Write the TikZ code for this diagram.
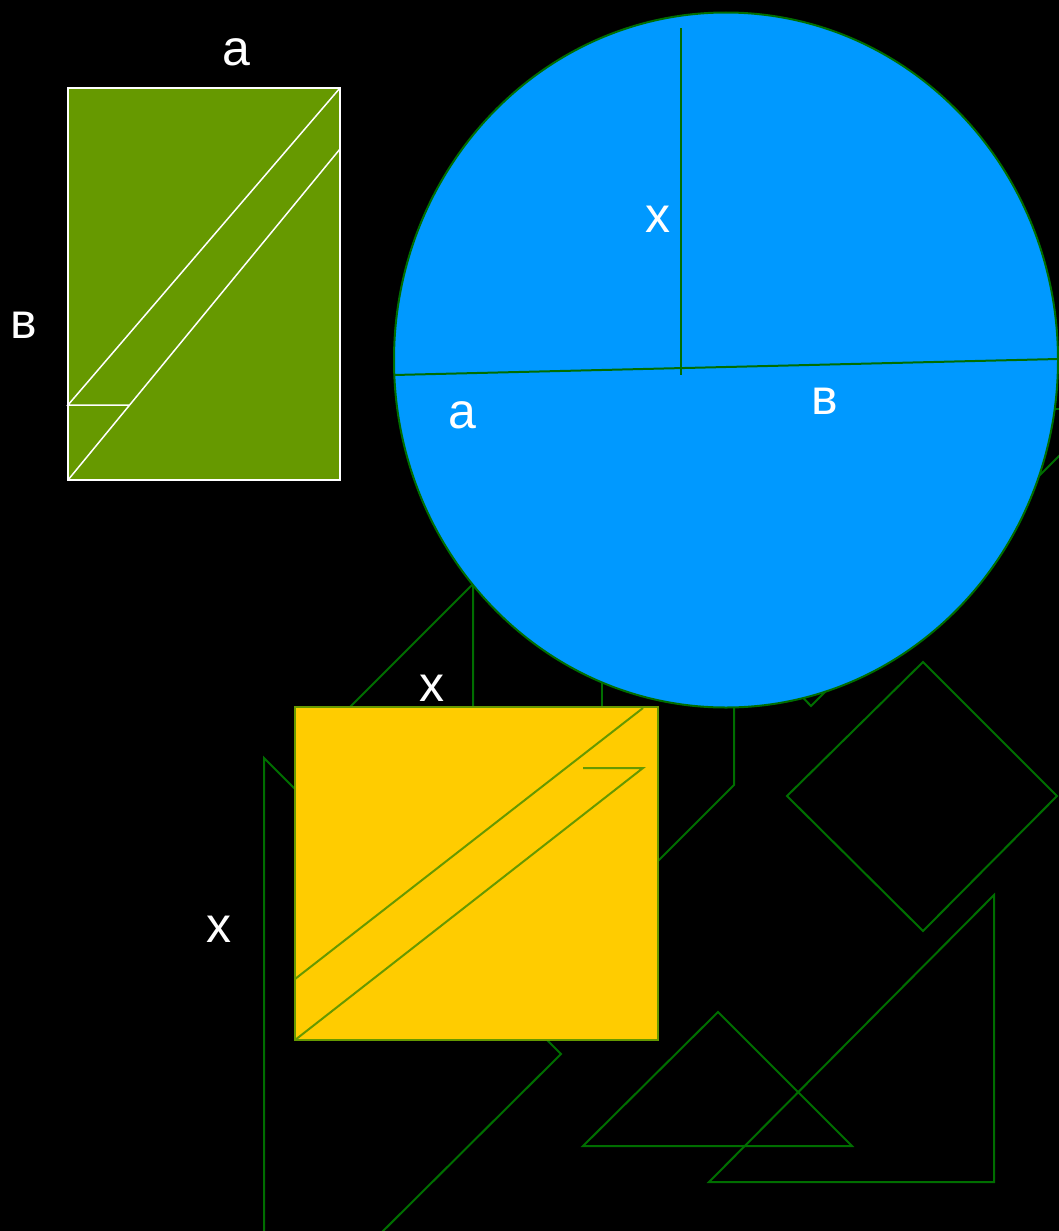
\documentclass[tikz,border=0pt]{standalone}
\usepackage{fontspec}
\setmainfont{Liberation Sans}
\usetikzlibrary{math}
\definecolor{myblue}{RGB}{0,153,255}
\definecolor{myyellow}{RGB}{255,204,0}
\definecolor{myolive}{RGB}{102,153,0}
\definecolor{mygreen}{RGB}{0,110,0}

\begin{document}
\begin{tikzpicture}[x=1pt,y=-1pt,
  lbl/.style={text=white,inner sep=0pt,font=\fontsize{50}{60}\selectfont},
  hidden/.style={draw=mygreen,line width=2pt,line join=miter}]
\tikzmath{
\W=1059;
\H=1231;
}
\fill[black] (0,0) rectangle (\W,\H);
\useasboundingbox (0,0) rectangle (\W,\H);
\clip (0,0) rectangle (\W,\H);

%outlines in the back
\draw[hidden] (330,727) -- (473,584) -- (473,730);
\draw[hidden] (602,660) -- (602,730);
\draw[hidden] (734,690) -- (734,785) -- (640,879);
\draw[hidden] (790,684) -- (811,706) -- (834,683);
\draw[hidden] (1030,485) -- (1070,445);
\draw[hidden] (1040,409) -- (1070,409);
\draw[hidden] (264,1240) -- (264,758) -- (310,804);
\draw[hidden] (530,1023) -- (561,1054) -- (374,1240);
\draw[hidden] (923,662) -- (1057,796) -- (923,931) -- (787,796) -- cycle;
\draw[hidden] (718,1012) -- (852,1146) -- (583,1146) -- cycle;
\draw[hidden] (994,895) -- (994,1182) -- (709,1182) -- cycle;

%circle
\fill[color=myblue, draw=mygreen, line width=2pt] (726,360) ellipse [x radius=332pt, y radius=347.5pt];
\draw[mygreen, line width=2pt] (394,375) -- (1058,359);
\draw[mygreen, line width=2pt] (681,28) -- (681,375);
\node[lbl] (circX) at (658,219) {x};
\node[lbl] (circA) at (462,415) {a};
\node[lbl] (circB) at (825,401) {в};

%square
\fill[color=myyellow, draw=myolive, line width=2pt] (295,707) rectangle (658,1040);
\draw[myolive, line width=2pt] (295,979) -- (643,708);
\draw[myolive, line width=2pt] (295,1040) -- (643,768) -- (583,768);
\node[lbl] (sqTop) at (432,688) {x};
\node[lbl] (sqLeft) at (219,929) {x};

%rectangle
\fill[color=myolive, draw=white, line width=1.5pt] (68,88) rectangle (340,480);
\draw[white, line width=1.5pt] (340,88) -- (68,405) -- (129,405);
\draw[white, line width=1.5pt] (68,480) -- (340,149);
\node[lbl] (recA) at (236,52) {a};
\node[lbl] (recB) at (24,325) {в};

\end{tikzpicture}
\end{document}
